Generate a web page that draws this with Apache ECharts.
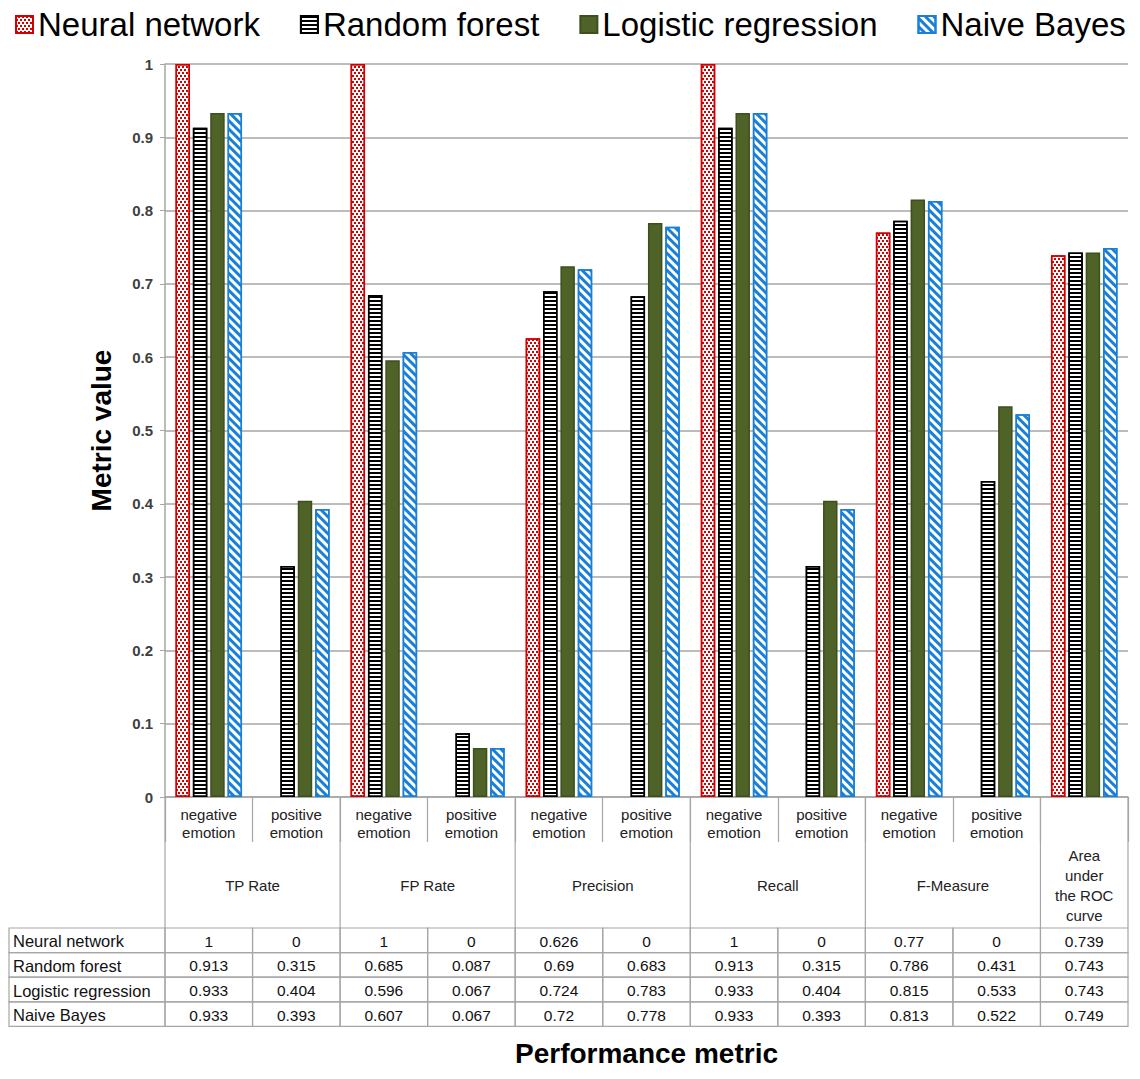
<!DOCTYPE html>
<html>
<head>
<meta charset="utf-8">
<script src="https://cdn.jsdelivr.net/npm/echarts@6/dist/echarts.min.js"></script>
<style>html,body{margin:0;padding:0;background:#fff}#c{width:1140px;height:1079px}</style>
</head>
<body>
<div id="c"></div>
<script>
// ---- data ----
const subCategories = ['negative\nemotion','positive\nemotion','negative\nemotion','positive\nemotion','negative\nemotion','positive\nemotion','negative\nemotion','positive\nemotion','negative\nemotion','positive\nemotion',''];
const groupNames = ['TP Rate','FP Rate','Precision','Recall','F-Measure','Area\nunder\nthe ROC\ncurve'];
const groupSpans = [2,2,2,2,2,1];
const seriesNames = ['Neural network','Random forest','Logistic regression','Naive Bayes'];
const neuralNetwork = [1,0,1,0,0.626,0,1,0,0.77,0,0.739];
const randomForest = [0.913,0.315,0.685,0.087,0.69,0.683,0.913,0.315,0.786,0.431,0.743];
const logisticRegression = [0.933,0.404,0.596,0.067,0.724,0.783,0.933,0.404,0.815,0.533,0.743];
const naiveBayes = [0.933,0.393,0.607,0.067,0.72,0.778,0.933,0.393,0.813,0.522,0.749];
const yTicks = [0,0.1,0.2,0.3,0.4,0.5,0.6,0.7,0.8,0.9,1];

const tableRows = [neuralNetwork, randomForest, logisticRegression, naiveBayes];
const FONT = 'Liberation Sans, Arial, sans-serif';
const GRID_C = '#a6a6a6';
const SUB_H = 45, GRP_H = 86, ROW_H = 24.6, TABLE_LEFT = 9;

const groupStart = {};
{ let k = 0; groupSpans.forEach((s, g) => { groupStart[k] = g; k += s; }); }

const chart = echarts.init(document.getElementById('c'), null, {renderer: 'svg'});

function renderTable(params, api) {
  const i = api.value(0);
  const p = api.coord([i, 0]);
  const w = api.size([1, 0])[0];
  const x0 = p[0] - w / 2, x1 = p[0] + w / 2;
  const yb = p[1];
  const children = [];
  const lineStyle = {stroke: GRID_C, lineWidth: 1.2};
  if (groupStart[i] !== undefined) {
    const g = groupStart[i];
    children.push({type: 'line', shape: {x1: x0, y1: yb, x2: x0, y2: yb + SUB_H + GRP_H}, style: lineStyle});
    children.push({type: 'text', style: {text: groupNames[g], x: x0 + groupSpans[g] * w / 2, y: yb + SUB_H + GRP_H / 2,
      textAlign: 'center', textVerticalAlign: 'middle', font: '15px ' + FONT, fill: '#222', lineHeight: 20}});
  }
  if (i === subCategories.length - 1) {
    children.push({type: 'line', shape: {x1: x1, y1: yb, x2: x1, y2: yb + SUB_H + GRP_H}, style: lineStyle});
  }
  const ty = yb + SUB_H + GRP_H;
  for (let r = 0; r < tableRows.length; r++) {
    const y = ty + r * ROW_H;
    children.push({type: 'rect', shape: {x: x0, y: y, width: w, height: ROW_H}, style: {fill: 'none', stroke: GRID_C, lineWidth: 1.2}});
    children.push({type: 'text', style: {text: String(tableRows[r][i]), x: p[0], y: y + ROW_H / 2 + 1,
      textAlign: 'center', textVerticalAlign: 'middle', font: '15.5px ' + FONT, fill: '#111'}});
    if (i === 0) {
      children.push({type: 'rect', shape: {x: TABLE_LEFT, y: y, width: x0 - TABLE_LEFT, height: ROW_H}, style: {fill: 'none', stroke: GRID_C, lineWidth: 1.2}});
      children.push({type: 'text', style: {text: seriesNames[r], x: TABLE_LEFT + 4, y: y + ROW_H / 2 + 1,
        textAlign: 'left', textVerticalAlign: 'middle', font: '16.5px ' + FONT, fill: '#111'}});
    }
  }
  return {type: 'group', children: children};
}

const decals = [
  {symbol: 'rect', symbolSize: 1, dashArrayX: [[2, 2], [0, 2, 2, 0]], dashArrayY: [2, 1], color: '#d40000', backgroundColor: '#ffffff', rotation: 0},
  {symbol: 'rect', symbolSize: 1, dashArrayX: [1, 0], dashArrayY: [2, 2], color: '#000000', backgroundColor: '#ffffff', rotation: 0},
  null,
  {symbol: 'rect', symbolSize: 1, dashArrayX: [1, 0], dashArrayY: [3, 3], color: '#1a7fd6', backgroundColor: '#ffffff', rotation: Math.PI / 4}
];
const fills = ['#ffffff', '#ffffff', '#4f6228', '#ffffff'];
const borders = ['#d40000', '#000000', '#3e4f1e', '#1a7fd6'];
const dataArrays = [neuralNetwork, randomForest, logisticRegression, naiveBayes];

const barSeries = seriesNames.map((name, k) => ({
  name: name,
  type: 'bar',
  data: dataArrays[k].map(v => v === 0 ? {value: v, itemStyle: {borderWidth: 0}} : v),
  barGap: '20%',
  barCategoryGap: '24%',
  itemStyle: Object.assign({color: fills[k], borderColor: borders[k], borderWidth: 1.5},
    decals[k] ? {decal: decals[k]} : {}),
  emphasis: {disabled: true}
}));

chart.setOption({
  animation: false,
  backgroundColor: '#ffffff',
  legend: {
    data: seriesNames.map(n => ({name: n, icon: 'rect'})),
    top: 3,
    left: 10,
    right: 0,
    itemWidth: 17,
    itemHeight: 17,
    itemGap: 40,
    textStyle: {fontSize: 33, fontFamily: FONT, color: '#000'}
  },
  grid: {left: 165, right: 12, top: 64, bottom: 282},
  xAxis: {
    type: 'category',
    data: subCategories,
    name: 'Performance metric',
    nameLocation: 'middle',
    nameGap: 242,
    nameTextStyle: {fontSize: 28, fontWeight: 'bold', fontFamily: FONT, color: '#000'},
    axisLine: {lineStyle: {color: GRID_C, width: 1.5}},
    axisTick: {show: true, alignWithLabel: false, length: SUB_H, lineStyle: {color: GRID_C, width: 1.2}},
    axisLabel: {interval: 0, fontSize: 15, lineHeight: 18, fontFamily: FONT, color: '#222', margin: 8}
  },
  yAxis: {
    type: 'value',
    min: 0, max: 1, interval: 0.1,
    name: 'Metric value',
    nameLocation: 'middle',
    nameGap: 50,
    nameTextStyle: {fontSize: 28, fontWeight: 'bold', fontFamily: FONT, color: '#000'},
    axisLine: {show: true, lineStyle: {color: GRID_C, width: 1.5}},
    axisTick: {show: true, length: 5, lineStyle: {color: GRID_C}},
    axisLabel: {fontSize: 15, fontFamily: FONT, color: '#404040', fontWeight: 'bold', margin: 12,
      formatter: v => { const t = yTicks.find(x => Math.abs(x - v) < 1e-9); return t === undefined ? '' : String(t); }},
    splitLine: {lineStyle: {color: GRID_C, width: 1.5}}
  },
  series: barSeries.concat([{
    type: 'custom',
    name: 'table',
    silent: true,
    clip: false,
    z: 10,
    renderItem: renderTable,
    encode: {x: 0, y: 1},
    data: subCategories.map((_, i) => [i, 0])
  }])
});
</script>
</body>
</html>
